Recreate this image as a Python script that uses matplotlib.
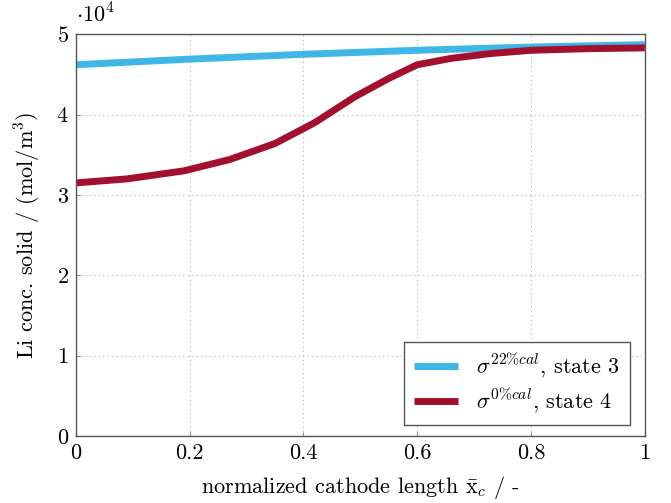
import numpy as np
import matplotlib
matplotlib.use("Agg")
import matplotlib.pyplot as plt

# data (values in 1e4 mol/m^3)
x_blue = [0.0, 0.2, 0.4, 0.6, 0.8, 1.0]
y_blue = [4.62, 4.69, 4.75, 4.80, 4.84, 4.87]

x_red = [0.0, 0.09, 0.19, 0.27, 0.35, 0.42, 0.49, 0.55, 0.60, 0.66, 0.73, 0.80, 0.90, 1.0]
y_red = [3.15, 3.20, 3.30, 3.44, 3.64, 3.90, 4.22, 4.45, 4.62, 4.70, 4.76, 4.80, 4.82, 4.83]

labels = [r"$\sigma^{22\%cal}$, state 3", r"$\sigma^{0\%cal}$, state 4"]

plt.rcParams['font.family'] = 'serif'
plt.rcParams['font.serif'] = ['cmr10', 'DejaVu Serif']
plt.rcParams['mathtext.fontset'] = 'cm'
plt.rcParams['axes.formatter.use_mathtext'] = True

fig = plt.figure(figsize=(6.71, 5.03), dpi=100)
ax = fig.add_axes([0.113, 0.133, 0.848, 0.799])

ax.plot(x_blue, y_blue, color='#3fb6e8', lw=5, label=labels[0], solid_capstyle='butt')
ax.plot(x_red, y_red, color='#a3102d', lw=5, label=labels[1], solid_capstyle='butt')

ax.set_xlim(0, 1)
ax.set_ylim(0, 5)
ax.set_xticks([0, 0.2, 0.4, 0.6, 0.8, 1])
ax.set_xticklabels(['0', '0.2', '0.4', '0.6', '0.8', '1'])
ax.set_yticks([0, 1, 2, 3, 4, 5])
ax.grid(True, linestyle=(0, (1, 3)), color='#b0b0b0', lw=0.8)
ax.tick_params(direction='in', length=3, labelsize=16, color='#888888', pad=5)
for s in ax.spines.values():
    s.set_color('#555555')
    s.set_linewidth(1.0)

ax.set_xlabel(r"normalized cathode length $\bar{\mathrm{x}}_c$ / -", fontsize=16, labelpad=8)
ax.set_ylabel(r"Li conc. solid / (mol/m$^3$)", fontsize=16, labelpad=10)
ax.text(0.0, 1.02, r"$\cdot 10^4$", transform=ax.transAxes, fontsize=16, ha='left', va='bottom')

leg = ax.legend(loc='lower right', fontsize=16, fancybox=False, framealpha=1,
                edgecolor='#555555', handlelength=2.0, borderpad=0.45,
                labelspacing=0.3, borderaxespad=0, bbox_to_anchor=(0.974, 0.027))
leg.get_frame().set_linewidth(1.0)

fig.savefig("out.png", dpi=100)
